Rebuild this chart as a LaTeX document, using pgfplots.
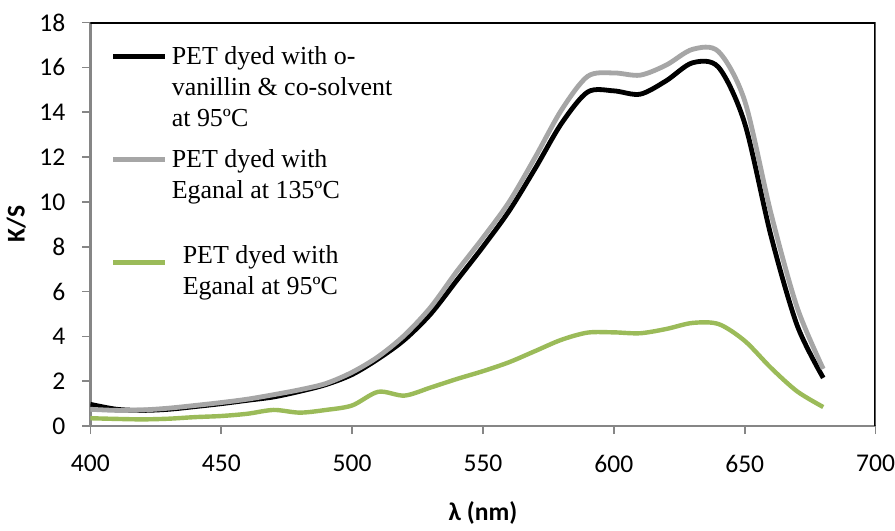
\documentclass[border=0pt]{standalone}
\usepackage{fontspec}
\setmainfont{Liberation Serif}
\newfontfamily\calibri{Carlito}
\usepackage{pgfplots}
\pgfplotsset{compat=1.18}
\definecolor{ksgray}{HTML}{A6A6A6}
\definecolor{ksgreen}{HTML}{9BBB59}
\definecolor{axgray}{HTML}{868686}

\begin{document}
\begin{tikzpicture}
\begin{axis}[
  scale only axis,
  width=392bp, height=201.5bp,
  xmin=400, xmax=700, ymin=0, ymax=18,
  xtick={400,450,...,700}, ytick={0,2,...,18},
  axis lines=left,
  axis line style={axgray, line width=1.1bp, -},
  tick align=outside,
  major tick length=4bp,
  tick style={axgray, line width=0.8bp},
  /pgf/number format/assume math mode=true,
  ticklabel style={font=\calibri\fontsize{12.8}{15}\selectfont},
  xticklabel style={yshift=-7bp, inner xsep=0pt},
  yticklabel style={xshift=-5bp},
  xlabel={\calibri\bfseries λ (nm)},
  ylabel={\calibri\bfseries K/S},
  label style={font=\fontsize{12.8}{15}\selectfont},
  xlabel style={yshift=-7.5bp},
  legend style={draw=none, fill=none, at={(rel axis cs:0.018,0.962)}, anchor=north west,
    font=\fontsize{13}{15.6}\selectfont, cells={align=left, anchor=west}, row sep=6bp},
  legend image code/.code={\draw[#1] (0bp,0bp) -- (26bp,0bp);},
]
\addplot[black, line width=2.4bp, smooth, tension=0.5,
  legend image post style={yshift=15.6bp}] coordinates {
 (400,0.97) (410,0.75) (420,0.70) (430,0.75) (440,0.87) (450,1.0) (460,1.15) (470,1.3)
 (480,1.55) (490,1.85) (500,2.3) (510,3.0) (520,3.85) (530,5.0) (540,6.5) (550,8.0)
 (560,9.6) (570,11.5) (580,13.5) (590,14.9) (600,14.95) (610,14.8) (620,15.4) (630,16.2)
 (640,16.0) (650,13.5) (660,8.5) (670,4.5) (680,2.15)
};
\addlegendentry{PET dyed with o-\\vanillin \& co-solvent\\at 95ºC}
\addplot[ksgray, line width=2.4bp, smooth, tension=0.5,
  legend image post style={yshift=7.8bp}] coordinates {
 (400,0.75) (410,0.7) (420,0.72) (430,0.8) (440,0.92) (450,1.05) (460,1.2) (470,1.4)
 (480,1.62) (490,1.9) (500,2.4) (510,3.1) (520,4.05) (530,5.3) (540,6.9) (550,8.4)
 (560,10.0) (570,12.0) (580,14.1) (590,15.6) (600,15.75) (610,15.65) (620,16.1) (630,16.8)
 (640,16.7) (650,14.5) (660,9.5) (670,5.3) (680,2.55)
};
\addlegendentry{PET dyed with\\Eganal at 135ºC}
\addplot[ksgreen, line width=2.2bp, smooth, tension=0.5,
  legend image post style={yshift=-1.5bp}] coordinates {
 (400,0.35) (410,0.32) (420,0.3) (430,0.33) (440,0.4) (450,0.45) (460,0.55) (470,0.72)
 (480,0.6) (490,0.72) (500,0.92) (510,1.53) (520,1.36) (530,1.72) (540,2.1) (550,2.45)
 (560,2.85) (570,3.35) (580,3.85) (590,4.17) (600,4.18) (610,4.14) (620,4.33) (630,4.6)
 (640,4.55) (650,3.8) (660,2.6) (670,1.55) (680,0.85)
};
\addlegendentry{\rule{0pt}{21bp}\hspace{5.5bp}PET dyed with\\\hspace{5.5bp}Eganal at 95ºC}
\draw[black, line width=1.1bp] (rel axis cs:0,1) -- (rel axis cs:1,1) -- (rel axis cs:1,0);
\end{axis}
\path (current axis.outer north) ++(0,3.5bp);
\end{tikzpicture}
\end{document}
